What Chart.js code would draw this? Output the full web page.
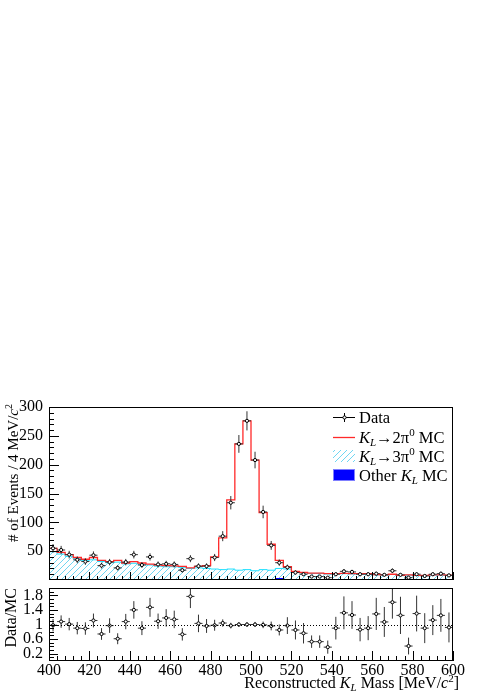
<!DOCTYPE html>
<html lang="en">
<head>
<meta charset="utf-8">
<title>Reconstructed KL mass</title>
<script src="https://cdn.jsdelivr.net/npm/chart.js@4.4.1/dist/chart.umd.min.js"></script>
<style>
  * { margin: 0; padding: 0; box-sizing: border-box; }
  body { width: 491px; height: 694px; background: #fff; position: relative; overflow: hidden; }
  .panel { position: absolute; left: 0; width: 491px; }
  #top-panel { top: 395px; height: 190px; }
  #ratio-panel { top: 583px; height: 111px; }
</style>
</head>
<body>
<div class="panel" id="top-panel"><canvas id="massChart" width="491" height="190"></canvas></div>
<div class="panel" id="ratio-panel"><canvas id="ratioChart" width="491" height="111"></canvas></div>
<script>
// bin centres, 4 MeV/c^2 bins from 400 to 600
const massBins = [402, 406, 410, 414, 418, 422, 426, 430, 434, 438,
                  442, 446, 450, 454, 458, 462, 466, 470, 474, 478,
                  482, 486, 490, 494, 498, 502, 506, 510, 514, 518,
                  522, 526, 530, 534, 538, 542, 546, 550, 554, 558,
                  562, 566, 570, 574, 578, 582, 586, 590, 594, 598];
const binWidth = 4;

const dataCounts = [55, 52, 44, 35, 32, 43, 25, 31, 21, 31,
                    44, 26, 40, 27, 28, 27, 17, 37, 24, 24,
                    39, 76, 134, 236, 276, 208, 118, 60, 30, 22,
                    13, 10, 6, 6, 4, 10, 15, 14, 10, 10,
                    11, 9, 16, 9, 4, 10, 7, 10, 11, 8];
const dataErrors = [7.4, 7.2, 6.6, 5.9, 5.7, 6.6, 5.0, 5.6, 4.6, 5.6,
                    6.6, 5.1, 6.3, 5.2, 5.3, 5.2, 4.1, 6.1, 4.9, 4.9,
                    6.2, 8.7, 11.6, 15.4, 16.6, 14.4, 10.9, 7.7, 5.5, 4.7,
                    3.6, 3.2, 2.4, 2.4, 2.0, 3.2, 3.9, 3.7, 3.2, 3.2,
                    3.3, 3.0, 4.0, 3.0, 2.0, 3.2, 2.6, 3.2, 3.3, 2.8];

// stacked MC: red outline = top of stack (2pi0 on top)
const mcTotal = [55, 48, 44, 39, 36, 39, 34, 32, 34, 29.5,
                 32, 29.5, 27.5, 26, 25, 24.5, 23.5, 21, 23.5, 25,
                 40, 73, 139, 236, 276, 208, 117, 62, 34, 23,
                 15, 13, 12, 12, 11, 11, 11.5, 11, 11, 11,
                 9.5, 9, 10, 8, 9, 8, 8, 9, 9, 8.5];
// top of the hatched 3pi0 area
const mc3pi0 = [49, 45, 41, 37, 34, 35, 32, 30, 31, 28,
                29, 27, 26, 24, 23, 23, 22, 20, 21, 20,
                19, 18, 19, 17, 18, 16, 18, 17, 20, 19,
                14, 12.5, 11.5, 11.5, 10.5, 10.5, 11, 10.5, 10.5, 10.5,
                9, 8.5, 9.5, 7.5, 8.5, 7.5, 7.5, 8.5, 8.5, 8];
const mcOther = [1, 0, 0, 0.5, 0, 0, 0, 0, 0, 0,
                 1, 0.5, 0, 0, 0, 0.5, 0, 0, 1, 0,
                 0, 0, 1.5, 0, 1, 0, 0, 1, 3.5, 0.5,
                 1, 0, 0, 0, 0, 0.5, 0, 1, 0, 0,
                 0, 0, 0, 0, 0, 1.5, 0, 0, 0, 0];

const ratioValues = [0.98, 1.08, 1.01, 0.90, 0.89, 1.11, 0.74, 0.97, 0.61, 1.08,
                     1.40, 0.90, 1.47, 1.09, 1.18, 1.14, 0.73, 1.77, 1.03, 0.96,
                     0.98, 1.04, 0.97, 1.00, 1.00, 1.00, 0.99, 0.96, 0.85, 0.97,
                     0.85, 0.76, 0.53, 0.53, 0.38, 0.90, 1.32, 1.26, 0.86, 0.90,
                     1.29, 1.07, 1.61, 1.25, 0.41, 1.30, 0.90, 1.12, 1.25, 0.92];
const ratioErrors = [0.17, 0.17, 0.17, 0.17, 0.17, 0.19, 0.16, 0.20, 0.15, 0.21,
                     0.24, 0.19, 0.26, 0.21, 0.24, 0.24, 0.17, 0.32, 0.24, 0.19,
                     0.15, 0.10, 0.077, 0.065, 0.065, 0.07, 0.09, 0.12, 0.15, 0.23,
                     0.26, 0.28, 0.17, 0.17, 0.18, 0.31, 0.45, 0.38, 0.32, 0.33,
                     0.44, 0.41, 0.45, 0.51, 0.23, 0.49, 0.41, 0.41, 0.45, 0.41];

const massTicks = [400, 420, 440, 460, 480, 500, 520, 540, 560, 580, 600];
const countTicks = [50, 100, 150, 200, 250, 300];
const ratioTicks = [0.2, 0.6, 1, 1.4, 1.8];

const serif = '"Liberation Serif", "DejaVu Serif", serif';
const RED = '#ff2a2a';
const CYAN = '#1fe0ff';
Chart.defaults.font.family = serif;
Chart.defaults.color = '#000';

// hatch for the 3pi0 area
function makeHatch() {
  const c = document.createElement('canvas');
  c.width = 6; c.height = 6;
  const g = c.getContext('2d');
  g.strokeStyle = '#6fd6f2';
  g.lineWidth = 1;
  g.beginPath();
  g.moveTo(0, 6); g.lineTo(6, 0);
  g.moveTo(-1, 1); g.lineTo(1, -1);
  g.moveTo(5, 7); g.lineTo(7, 5);
  g.stroke();
  return g.createPattern(c, 'repeat');
}
const hatch = makeHatch();

function histSteps(values) {
  const pts = massBins.map((c, i) => ({ x: c - binWidth / 2, y: values[i] }));
  pts.push({ x: massBins[massBins.length - 1] + binWidth / 2, y: values[values.length - 1] });
  return pts;
}
function histPoints(values) {
  return massBins.map((c, i) => ({ x: c, y: values[i] }));
}

// text with italic / sub / sup pieces
function partFont(p, size) {
  const s = (p.sub || p.sup) ? Math.round(size * 0.68) : size;
  return (p.it ? 'italic ' : '') + s + 'px ' + serif;
}
function drawRich(ctx, parts, x, y, size, align) {
  ctx.save();
  ctx.textBaseline = 'alphabetic';
  ctx.textAlign = 'left';
  ctx.fillStyle = '#000';
  let w = 0;
  parts.forEach(p => { ctx.font = partFont(p, size); p.w = ctx.measureText(p.t).width; w += p.w; });
  let cx = align === 'right' ? x - w : x;
  parts.forEach(p => {
    ctx.font = partFont(p, size);
    const dy = p.sub ? size * 0.2 : p.sup ? -size * 0.4 : 0;
    ctx.fillText(p.t, cx, y + dy);
    cx += p.w;
  });
  ctx.restore();
}
function drawRotated(ctx, parts, x, y, size) {
  ctx.save();
  ctx.translate(x, y);
  ctx.rotate(-Math.PI / 2);
  drawRich(ctx, parts, 0, 0, size, 'right');
  ctx.restore();
}

// error bars under the markers
const errorBars = {
  id: 'errorBars',
  beforeDatasetDraw(chart, args) {
    const ds = chart.data.datasets[args.index];
    if (!ds.errors) return;
    const { ctx, chartArea: a } = chart;
    const xs = chart.scales.x, ys = chart.scales.y;
    ctx.save();
    ctx.beginPath();
    ctx.rect(a.left, a.top, a.right - a.left, a.bottom - a.top);
    ctx.clip();
    ctx.strokeStyle = '#333';
    ctx.lineWidth = 1;
    ds.data.forEach((p, i) => {
      const e = ds.errors[i];
      const x = xs.getPixelForValue(p.x), y = ys.getPixelForValue(p.y);
      ctx.beginPath();
      ctx.moveTo(xs.getPixelForValue(p.x - binWidth / 2), y);
      ctx.lineTo(xs.getPixelForValue(p.x + binWidth / 2), y);
      ctx.moveTo(x, ys.getPixelForValue(p.y - e));
      ctx.lineTo(x, ys.getPixelForValue(p.y + e));
      ctx.stroke();
    });
    ctx.restore();
  }
};

// ROOT style frame, inside ticks, reference line and extra text
const rootFrame = {
  id: 'rootFrame',
  afterDraw(chart, args, o) {
    const { ctx, chartArea: a } = chart;
    const xs = chart.scales.x, ys = chart.scales.y;
    ctx.save();
    if (o.refLine !== undefined) {
      const py = Math.round(ys.getPixelForValue(o.refLine)) + 0.5;
      ctx.strokeStyle = '#000';
      ctx.lineWidth = 1;
      ctx.setLineDash([1, 2]);
      ctx.beginPath();
      ctx.moveTo(a.left, py); ctx.lineTo(a.right, py);
      ctx.stroke();
      ctx.setLineDash([]);
    }
    ctx.strokeStyle = '#000';
    ctx.lineWidth = 1;
    ctx.strokeRect(a.left + 0.5, a.top + 0.5, a.right - a.left - 1, a.bottom - a.top - 1);
    ctx.beginPath();
    for (let v = xs.min; v <= xs.max + 1e-6; v += o.xMinor) {
      const px = Math.round(xs.getPixelForValue(v)) + 0.5;
      const major = massTicks.some(t => Math.abs(t - v) < 1e-6);
      ctx.moveTo(px, a.bottom);
      ctx.lineTo(px, a.bottom - (major ? o.xMajorLen : o.xMinorLen));
    }
    for (let v = ys.min + o.yMinor; v < ys.max - 1e-6; v += o.yMinor) {
      const py = Math.round(ys.getPixelForValue(v)) + 0.5;
      const major = o.yMajors.some(t => Math.abs(t - v) < 1e-6);
      ctx.moveTo(a.left, py);
      ctx.lineTo(a.left + (major ? o.yMajorLen : o.yMinorLen), py);
    }
    ctx.stroke();
    ctx.restore();
    if (o.draw) o.draw(ctx, a);
  }
};

function fixScale(width, height) {
  return function (s) {
    if (width !== null) s.width = width;
    if (height !== null) s.height = height;
    s.paddingTop = 0; s.paddingBottom = 0; s.paddingLeft = 0; s.paddingRight = 0;
  };
}
const tickFont = { family: serif, size: 16 };

// top panel: event counts
new Chart(document.getElementById('massChart'), {
  type: 'line',
  data: {
    datasets: [
      { label: 'KL→3π0 MC', data: histSteps(mc3pi0), stepped: true, fill: 'origin',
        backgroundColor: hatch, borderColor: CYAN, borderWidth: 1, pointRadius: 0, order: 4 },
      { label: 'Other KL MC', data: histSteps(mcOther), stepped: true, fill: 'origin',
        backgroundColor: '#0000ff', borderColor: 'rgba(0,0,0,0)', borderWidth: 0, pointRadius: 0, order: 3 },
      { label: 'KL→2π0 MC', data: histSteps(mcTotal), stepped: true, fill: false,
        borderColor: RED, borderWidth: 1.3, pointRadius: 0, order: 2 },
      { label: 'Data', data: histPoints(dataCounts), errors: dataErrors, showLine: false,
        pointRadius: 1.6, pointBackgroundColor: '#fff', pointBorderColor: '#000', pointBorderWidth: 1, order: 1 }
    ]
  },
  options: {
    responsive: false,
    animation: false,
    events: [],
    layout: { padding: { top: 12, right: 38, bottom: 2, left: 0 } },
    scales: {
      x: { type: 'linear', min: 400, max: 600,
           ticks: { display: false }, grid: { display: false }, border: { display: false },
           afterFit: fixScale(null, 0) },
      y: { type: 'linear', min: 0, max: 300,
           afterBuildTicks: s => { s.ticks = countTicks.map(v => ({ value: v })); },
           ticks: { font: tickFont, color: '#000', padding: 6, autoSkip: false, callback: v => String(v) },
           grid: { display: false, drawTicks: false }, border: { display: false },
           afterFit: fixScale(49, null) }
    },
    plugins: {
      legend: { display: false },
      tooltip: { enabled: false },
      rootFrame: {
        xMinor: 4, xMajorLen: 8, xMinorLen: 4,
        yMinor: 10, yMajors: countTicks, yMajorLen: 10, yMinorLen: 5,
        draw(ctx, a) {
          drawRotated(ctx, [{ t: '# of Events / 4 MeV/' }, { t: 'c', it: 1 }, { t: '2', sup: 1 }], 18, a.top - 3, 15);
          // legend
          const lx = a.right - 120, tx = a.right - 94;
          const rows = [a.top + 10, a.top + 30, a.top + 49, a.top + 68];
          ctx.save();
          ctx.lineWidth = 1;
          ctx.strokeStyle = '#000';
          ctx.beginPath();
          ctx.moveTo(lx, rows[0] + 0.5); ctx.lineTo(lx + 22, rows[0] + 0.5);
          ctx.moveTo(lx + 11.5, rows[0] - 4); ctx.lineTo(lx + 11.5, rows[0] + 5);
          ctx.stroke();
          ctx.beginPath();
          ctx.arc(lx + 11.5, rows[0] + 0.5, 1.6, 0, Math.PI * 2);
          ctx.fillStyle = '#fff'; ctx.fill(); ctx.stroke();
          ctx.strokeStyle = RED; ctx.lineWidth = 1.3;
          ctx.beginPath();
          ctx.moveTo(lx, rows[1] + 0.5); ctx.lineTo(lx + 22, rows[1] + 0.5);
          ctx.stroke();
          ctx.fillStyle = hatch;
          ctx.fillRect(lx, rows[2] - 6, 22, 12);
          ctx.fillStyle = '#0000ff';
          ctx.fillRect(lx, rows[3] - 6, 22, 12);
          ctx.strokeStyle = '#7f7fff'; ctx.lineWidth = 1;
          ctx.strokeRect(lx + 0.5, rows[3] - 5.5, 21, 11);
          ctx.restore();
          const fs = 16.5, off = 5.5;
          drawRich(ctx, [{ t: 'Data' }], tx, rows[0] + off, fs);
          drawRich(ctx, [{ t: 'K', it: 1 }, { t: 'L', it: 1, sub: 1 }, { t: '→2π' }, { t: '0', sup: 1 }, { t: ' MC' }], tx, rows[1] + off, fs);
          drawRich(ctx, [{ t: 'K', it: 1 }, { t: 'L', it: 1, sub: 1 }, { t: '→3π' }, { t: '0', sup: 1 }, { t: ' MC' }], tx, rows[2] + off, fs);
          drawRich(ctx, [{ t: 'Other ' }, { t: 'K', it: 1 }, { t: 'L', it: 1, sub: 1 }, { t: ' MC' }], tx, rows[3] + off, fs);
        }
      }
    }
  },
  plugins: [errorBars, rootFrame]
});

// bottom panel: Data/MC
new Chart(document.getElementById('ratioChart'), {
  type: 'line',
  data: {
    datasets: [
      { label: 'Data/MC', data: histPoints(ratioValues), errors: ratioErrors, showLine: false,
        pointRadius: 1.6, pointBackgroundColor: '#fff', pointBorderColor: '#000', pointBorderWidth: 1 }
    ]
  },
  options: {
    responsive: false,
    animation: false,
    events: [],
    layout: { padding: { top: 0, right: 38, bottom: 0, left: 0 } },
    scales: {
      x: { type: 'linear', min: 400, max: 600,
           afterBuildTicks: s => { s.ticks = massTicks.map(v => ({ value: v })); },
           ticks: { font: tickFont, color: '#000', padding: 0, autoSkip: false, maxRotation: 0, callback: v => String(v) },
           grid: { display: false, drawTicks: false }, border: { display: false },
           afterFit: fixScale(null, 33) },
      y: { type: 'linear', min: 0, max: 2,
           afterBuildTicks: s => { s.ticks = ratioTicks.map(v => ({ value: v })); },
           ticks: { font: tickFont, color: '#000', padding: 6, autoSkip: false, callback: v => String(v) },
           grid: { display: false, drawTicks: false }, border: { display: false },
           afterFit: fixScale(49, null) }
    },
    plugins: {
      legend: { display: false },
      tooltip: { enabled: false },
      rootFrame: {
        refLine: 1,
        xMinor: 4, xMajorLen: 10, xMinorLen: 5,
        yMinor: 0.1, yMajors: ratioTicks, yMajorLen: 9, yMinorLen: 5,
        draw(ctx, a) {
          drawRotated(ctx, [{ t: 'Data/MC' }], 16, a.top, 16);
          drawRich(ctx, [{ t: 'Reconstructed ' }, { t: 'K', it: 1 }, { t: 'L', it: 1, sub: 1 },
                         { t: ' Mass [MeV/' }, { t: 'c', it: 1 }, { t: '2', sup: 1 }, { t: ']' }],
                   459, a.bottom + 27, 16, 'right');
        }
      }
    }
  },
  plugins: [errorBars, rootFrame]
});
</script>
</body>
</html>
